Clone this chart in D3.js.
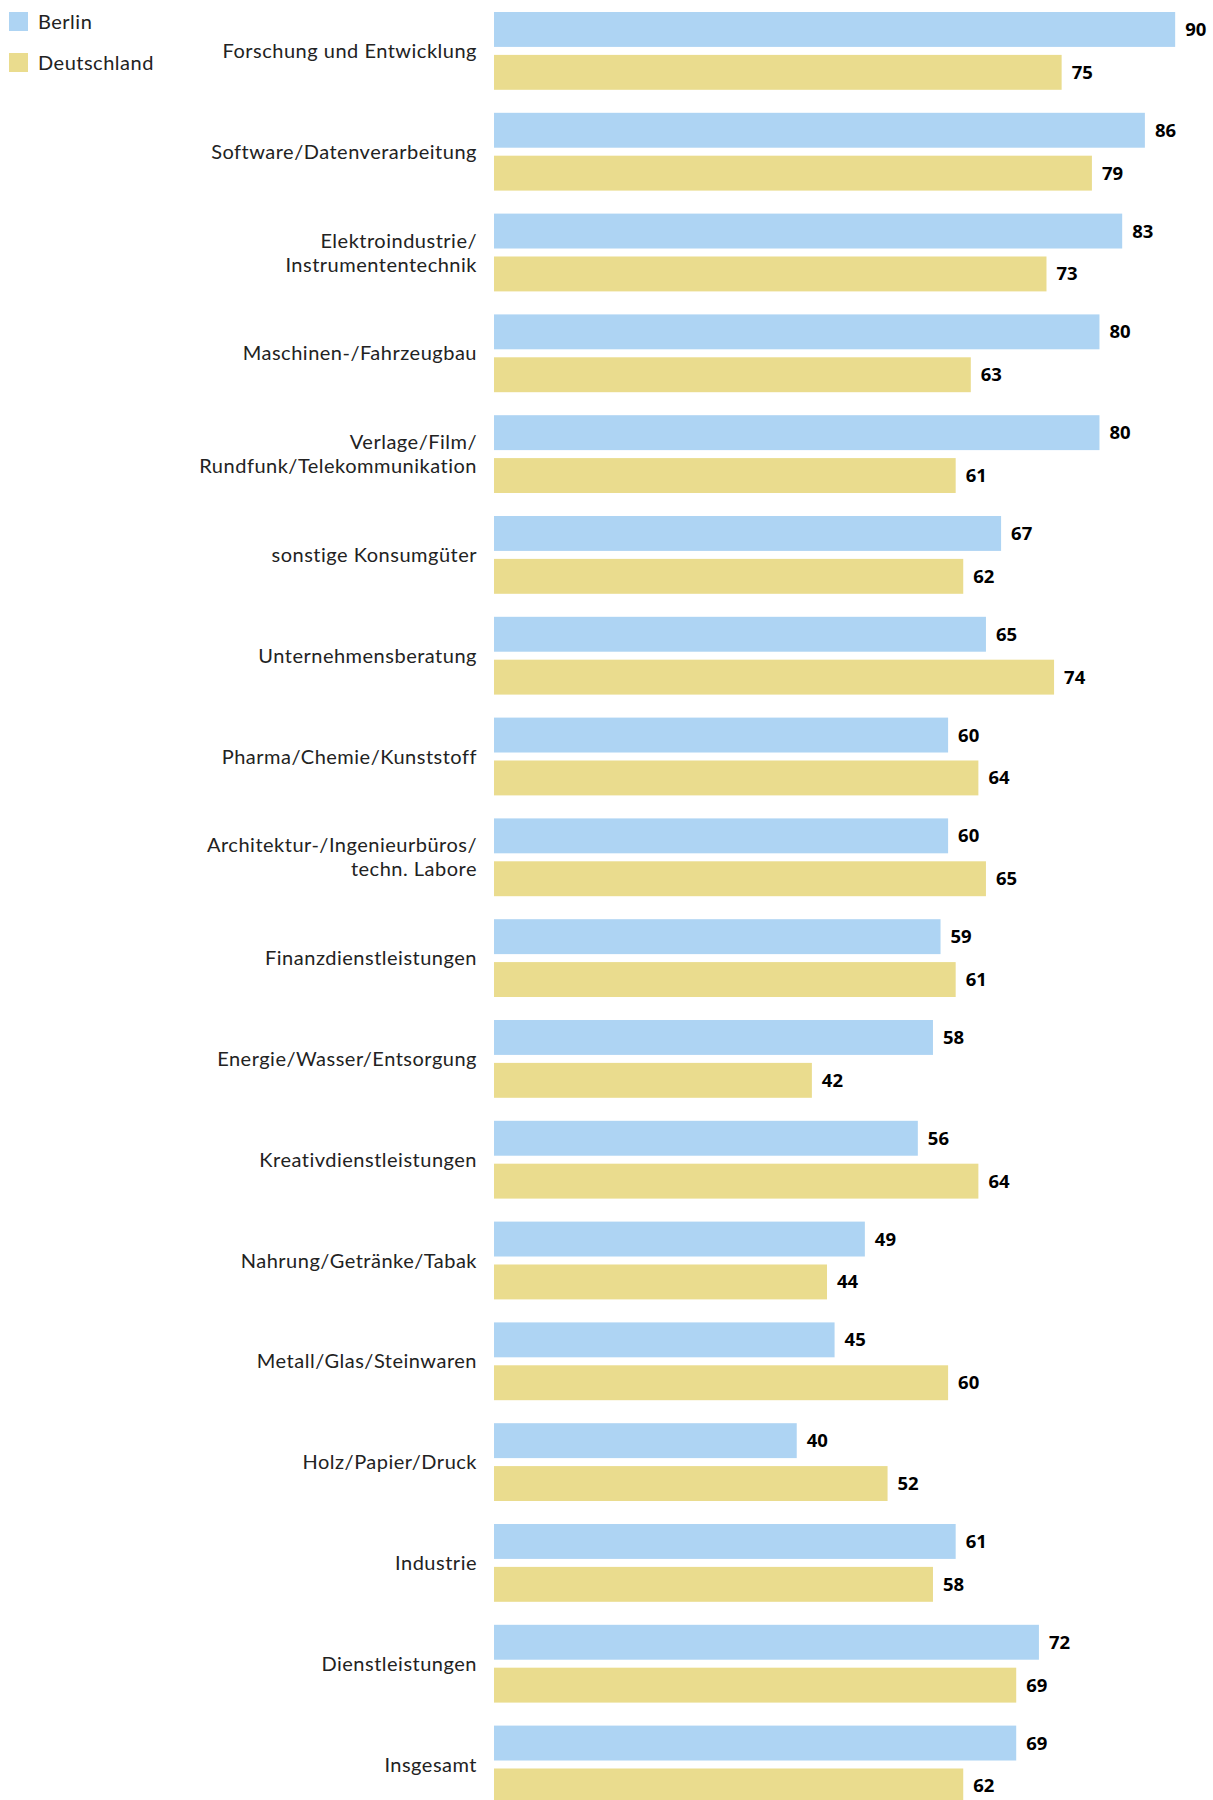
<!DOCTYPE html>
<html>
<head>
<meta charset="utf-8">
<script src="https://cdn.jsdelivr.net/npm/d3@7"></script>
<style>
    body { margin: 0; background: #fff; }
    #chart { width: 1213px; height: 1800px; }
    text { font-family: "Open Sans", sans-serif; }
    .y-axis text { font-family: Lato, sans-serif; font-size: 20px; font-weight: 400; letter-spacing: 0.5px; fill: #222; }
    .value { font-size: 18.5px; font-weight: bold; fill: #000; }
    .legend text { font-family: Lato, sans-serif; font-size: 20px; font-weight: 400; letter-spacing: 0.5px; fill: #222; }
</style>
</head>
<body>
<div id="chart"></div>
<script>
// categories ("\n" marks a line break in the label)
const categories = [
    "Forschung und Entwicklung",
    "Software/Datenverarbeitung",
    "Elektroindustrie/\nInstrumententechnik",
    "Maschinen-/Fahrzeugbau",
    "Verlage/Film/\nRundfunk/Telekommunikation",
    "sonstige Konsumgüter",
    "Unternehmensberatung",
    "Pharma/Chemie/Kunststoff",
    "Architektur-/Ingenieurbüros/\ntechn. Labore",
    "Finanzdienstleistungen",
    "Energie/Wasser/Entsorgung",
    "Kreativdienstleistungen",
    "Nahrung/Getränke/Tabak",
    "Metall/Glas/Steinwaren",
    "Holz/Papier/Druck",
    "Industrie",
    "Dienstleistungen",
    "Insgesamt"
];
const seriesNames = ["Berlin", "Deutschland"];
const berlin      = [90, 86, 83, 80, 80, 67, 65, 60, 60, 59, 58, 56, 49, 45, 40, 61, 72, 69];
const deutschland = [75, 79, 73, 63, 61, 62, 74, 64, 65, 61, 42, 64, 44, 60, 52, 58, 69, 62];
const colors = ["#aed4f3", "#eadc8e"];

const data = categories.map((c, i) => ({ cat: c, values: [berlin[i], deutschland[i]] }));

const margin = {top: 12, right: 0, bottom: 0, left: 494};
const width = 1213 - margin.left - margin.right;
const step = 100.8;
const height = categories.length * step - 23;

const svg = d3.select("#chart").append("svg")
    .attr("width", 1213)
    .attr("height", 1800);

const g = svg.append("g")
    .attr("transform", `translate(${margin.left}, ${margin.top})`);

const x = d3.scaleLinear()
    .domain([0, 95])
    .range([0, width]);

const y0 = d3.scaleBand()
    .domain(categories)
    .range([0, height])
    .paddingInner(23 / step)
    .paddingOuter(0);

const y1 = d3.scaleBand()
    .domain(seriesNames)
    .range([0, y0.bandwidth()])
    .paddingInner(0.186)
    .paddingOuter(0);

// category labels via axis
const yAxis = d3.axisLeft(y0).tickSize(0).tickPadding(17);
const axisG = g.append("g")
    .attr("class", "y-axis")
    .call(yAxis);
axisG.select(".domain").remove();
axisG.selectAll(".tick text")
    .attr("font-family", null)
    .attr("font-size", null)
    .each(function(d) {
        const t = d3.select(this);
        const lines = d.split("\n");
        const xPos = t.attr("x");
        t.text(null).attr("dy", null);
        lines.forEach((line, i) => {
            t.append("tspan")
                .attr("x", xPos)
                .attr("dy", i === 0 ? `${0.35 - (lines.length - 1) * 0.6}em` : "1.2em")
                .text(line);
        });
    });

// bars
const groups = g.selectAll(".group")
    .data(data)
    .join("g")
    .attr("class", "group")
    .attr("transform", d => `translate(0, ${y0(d.cat)})`);

groups.selectAll("rect")
    .data(d => d.values.map((v, i) => ({ key: seriesNames[i], val: v })))
    .join("rect")
    .attr("x", 0)
    .attr("y", d => y1(d.key))
    .attr("width", d => x(d.val))
    .attr("height", y1.bandwidth())
    .attr("fill", d => colors[seriesNames.indexOf(d.key)]);

groups.selectAll(".value")
    .data(d => d.values.map((v, i) => ({ key: seriesNames[i], val: v })))
    .join("text")
    .attr("class", "value")
    .attr("x", d => x(d.val) + 10)
    .attr("y", d => y1(d.key) + y1.bandwidth() / 2)
    .attr("dy", "0.35em")
    .text(d => d.val);

// legend
const legend = svg.append("g")
    .attr("class", "legend")
    .attr("transform", "translate(9, 12)");

const items = legend.selectAll("g")
    .data(seriesNames)
    .join("g")
    .attr("transform", (d, i) => `translate(0, ${i * 41})`);

items.append("rect")
    .attr("width", 19)
    .attr("height", 19)
    .attr("fill", (d, i) => colors[i]);

items.append("text")
    .attr("x", 29)
    .attr("y", 9.5)
    .attr("dy", "0.35em")
    .text(d => d);
</script>
</body>
</html>
